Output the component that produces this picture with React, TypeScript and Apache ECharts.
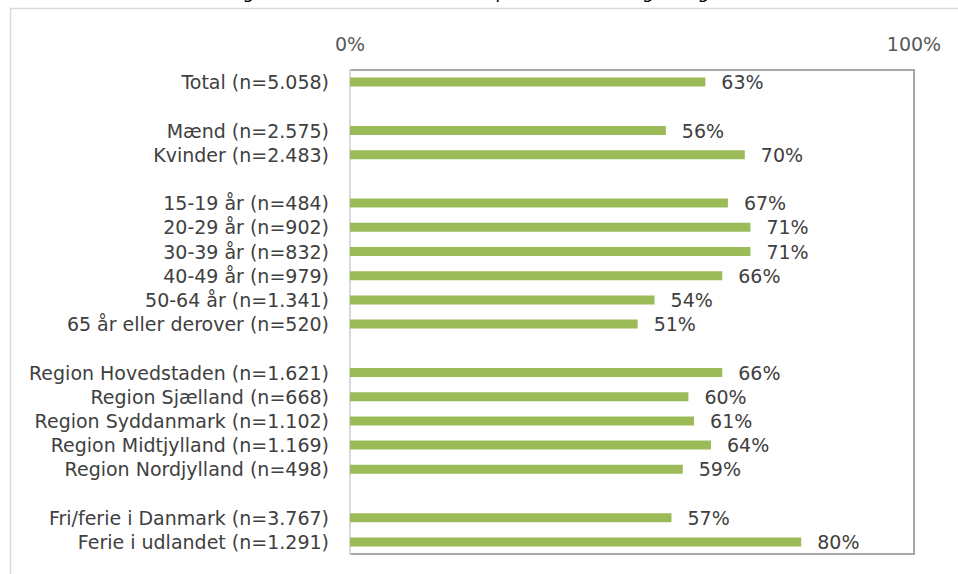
import React, { useEffect, useRef } from "react";
import * as echarts from "echarts";

const categories: string[] = [
  "Total (n=5.058)",
  "_gap1",
  "Mænd (n=2.575)",
  "Kvinder (n=2.483)",
  "_gap2",
  "15-19 år (n=484)",
  "20-29 år (n=902)",
  "30-39 år (n=832)",
  "40-49 år (n=979)",
  "50-64 år (n=1.341)",
  "65 år eller derover (n=520)",
  "_gap3",
  "Region Hovedstaden (n=1.621)",
  "Region Sjælland (n=668)",
  "Region Syddanmark (n=1.102)",
  "Region Midtjylland (n=1.169)",
  "Region Nordjylland (n=498)",
  "_gap4",
  "Fri/ferie i Danmark (n=3.767)",
  "Ferie i udlandet (n=1.291)",
];

const values: (number | null)[] = [
  63, null, 56, 70, null, 67, 71, 71, 66, 54, 51, null, 66, 60, 61, 64, 59, null, 57, 80,
];

const axisTicks: number[] = [0, 100];

const titleText =
  "Andel der har holdt længere ferie i sommer, fordelt på køn, alder, region og ferie i Danmark/udlandet (Procent)";

const FONT = "'DejaVu Sans', 'Liberation Sans', sans-serif";

export default function App() {
  const ref = useRef<HTMLDivElement>(null);
  useEffect(() => {
    document.body.style.margin = "0";
    const chart = echarts.init(ref.current!, null, { renderer: "svg" });
    chart.setOption({
      animation: false,
      backgroundColor: "#ffffff",
      textStyle: { fontFamily: FONT },
      graphic: [
        {
          type: "rect",
          shape: { x: 10.5, y: 8.5, width: 1000, height: 700 },
          style: { fill: "none", stroke: "#d9d9d9", lineWidth: 1.5 },
          silent: true,
          z: -10,
        },
        {
          type: "text",
          x: 30,
          y: -18,
          style: {
            text: titleText,
            fontFamily: FONT,
            fontStyle: "italic",
            fontSize: 18,
            fill: "#000000",
          },
          silent: true,
        },
      ],
      grid: {
        left: 350,
        right: 44,
        top: 70,
        bottom: 20,
        show: true,
        borderColor: "#a6a6a6",
        borderWidth: 2,
        backgroundColor: "transparent",
      },
      xAxis: {
        type: "value",
        position: "top",
        min: axisTicks[0],
        max: axisTicks[axisTicks.length - 1],
        interval: 100,
        axisLine: { show: false },
        axisTick: { show: false },
        splitLine: { show: false },
        axisLabel: {
          formatter: (v: number) => `${v}%`,
          color: "#595959",
          fontSize: 19,
          fontFamily: FONT,
          margin: 17,
        },
      },
      yAxis: {
        type: "category",
        inverse: true,
        data: categories,
        axisLine: { show: true, lineStyle: { color: "#d9d9d9", width: 2 } },
        axisTick: { show: false },
        splitLine: { show: false },
        axisLabel: {
          interval: 0,
          color: "#404040",
          fontSize: 19,
          fontFamily: FONT,
          margin: 21,
          formatter: (v: string) => (v.startsWith("_gap") ? "" : v),
        },
      },
      series: [
        {
          type: "bar",
          data: values,
          barWidth: 9,
          itemStyle: { color: "#9bbb59" },
          label: {
            show: true,
            position: "right",
            distance: 16,
            color: "#404040",
            fontSize: 19,
            fontFamily: FONT,
            formatter: (p: any) => (p.value == null ? "" : `${p.value}%`),
          },
        },
      ],
    });
    return () => chart.dispose();
  }, []);
  return (
    <div
      ref={ref}
      style={{ position: "fixed", left: 0, top: 0, width: 958, height: 574 }}
    />
  );
}
